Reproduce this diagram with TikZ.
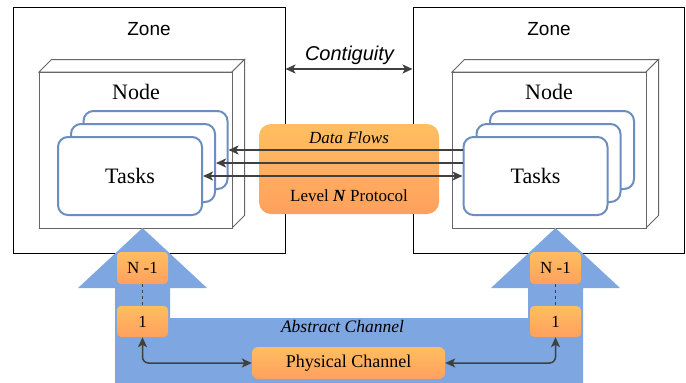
\documentclass[tikz,border=0pt]{standalone}
\usepackage{fontspec}
\setmainfont{Liberation Serif}
\newfontfamily\zonefont{Liberation Sans}
\usetikzlibrary{arrows.meta,calc}

\definecolor{taskblue}{RGB}{108,142,191}
\definecolor{chanblue}{RGB}{126,166,224}
\definecolor{orTop}{RGB}{255,190,96}
\definecolor{orBot}{RGB}{255,160,94}
\definecolor{linegray}{RGB}{64,64,64}
\definecolor{nodegray}{RGB}{102,102,102}

\tikzset{
  zonebox/.style={draw=black, line width=1pt, fill=white, inner sep=0pt},
  zonelabel/.style={font=\zonefont\fontsize{19}{22}\selectfont, inner sep=0pt},
  nodelabel/.style={font=\fontsize{22}{26}\selectfont, inner sep=0pt},
  taskbox/.style={draw=taskblue, line width=2pt, fill=white, rounded corners=10pt,
    minimum width=144pt, minimum height=78pt, inner sep=0pt,
    font=\fontsize{22}{26}\selectfont},
  cubeline/.style={draw=nodegray, line width=1pt, fill=white},
  orangebox/.style={rounded corners=#1, top color=orTop, bottom color=orBot,
    draw=none, inner sep=0pt, font=\fontsize{17}{20}\selectfont},
  flowarrow/.style={draw=linegray, line width=1.5pt,
    -{Stealth[length=10pt,width=9pt,inset=2.5pt]}},
  flowboth/.style={draw=linegray, line width=1.5pt,
    {Stealth[length=10pt,width=9pt,inset=2.5pt]}-{Stealth[length=10pt,width=9pt,inset=2.5pt]}},
  italiclabel/.style={font=\itshape\fontsize{17}{20}\selectfont, inner sep=0pt},
}

\begin{document}
\begin{tikzpicture}[x=1pt, y=-1pt]
\useasboundingbox (0,0) rectangle (686,383);

% ---------- zones ----------
\node[zonebox, minimum width=272pt, minimum height=246pt] (zoneL) at (149,130) {};
\node[zonebox, minimum width=271pt, minimum height=246pt] (zoneR) at (548.5,130) {};
\node[zonelabel] (zoneLtxt) at (149,29) {Zone};
\node[zonelabel] (zoneRtxt) at (549,29) {Zone};

% ---------- node cubes ----------
\foreach \xa/\xb in {39/232, 452/646}{
  \path[cubeline] (\xa,72) -- (\xa+12.5,59.5) -- (\xb+12.5,59.5) -- (\xb,72) -- cycle;
  \path[cubeline] (\xb,72) -- (\xb+12.5,59.5) -- (\xb+12.5,215.5) -- (\xb,228) -- cycle;
  \path[cubeline] (\xa,72) rectangle (\xb,228);
}
\node[nodelabel] (nodeLtxt) at (136,92) {Node};
\node[nodelabel] (nodeRtxt) at (549,92) {Node};

% ---------- task stacks ----------
\node[taskbox] (tLback) at (155.5,150) {};
\node[taskbox] (tLmid)  at (143,163) {};
\node[taskbox] (tLfront) at (130,176) {Tasks};
\node[taskbox] (tRback) at (562,150) {};
\node[taskbox] (tRmid)  at (548.5,163) {};
\node[taskbox] (tRfront) at (535.5,176) {Tasks};

% ---------- protocol ----------
\node[orangebox=12pt, minimum width=180pt, minimum height=90pt] (proto) at (349,169) {};
\node[italiclabel] (flows) at (349,138) {Data Flows};
\node[inner sep=0pt, font=\fontsize{17}{20}\selectfont] (level) at (349,196)
  {Level \textbf{\textit{N}} Protocol};

\draw[flowarrow] (tRfront.west |- tLback.east) -- (tLback.east);
\draw[flowarrow] (tRfront.west |- tLmid.east) -- (tLmid.east);
\draw[flowboth] (tLfront.east) -- (tRfront.west);

% ---------- contiguity ----------
\node[zonelabel, font=\zonefont\itshape\fontsize{20}{23}\selectfont] (contig) at (349.5,55) {Contiguity};
\coordinate (cy) at (349,69);
\draw[flowboth] (zoneL.east |- cy) -- (zoneR.west |- cy);

% ---------- abstract channel ----------
\fill[chanblue] (115,383) -- (115,288) -- (78,288) -- (142.5,228) -- (207,288)
  -- (170,288) -- (170,318) -- (528,318) -- (528,288) -- (491,288)
  -- (555.5,228) -- (620,288) -- (583,288) -- (583,383) -- cycle;

\node[orangebox=4pt, minimum width=51pt, minimum height=32pt] (nL) at (142.5,268) {N -1};
\node[orangebox=4pt, minimum width=51pt, minimum height=31pt] (oneL) at (142.5,321.5) {1};
\node[orangebox=4pt, minimum width=51pt, minimum height=32pt] (nR) at (555.5,268) {N -1};
\node[orangebox=4pt, minimum width=51pt, minimum height=31pt] (oneR) at (555.5,321.5) {1};
\draw[linegray, line width=1pt, dash pattern=on 3pt off 3pt] (nL.south) -- (oneL.north);
\draw[linegray, line width=1pt, dash pattern=on 3pt off 3pt] (nR.south) -- (oneR.north);

\node[italiclabel, font=\itshape\fontsize{17.5}{20}\selectfont] (abstract) at (342.5,327) {Abstract Channel};
\node[orangebox=6pt, minimum width=193pt, minimum height=32pt, font=\fontsize{18}{21}\selectfont]
  (phys) at (348.5,363) {Physical Channel};

\draw[flowboth, rounded corners=6pt] (oneL.south) |- (phys.west);
\draw[flowboth, rounded corners=6pt] (oneR.south) |- (phys.east);
\end{tikzpicture}
\end{document}
